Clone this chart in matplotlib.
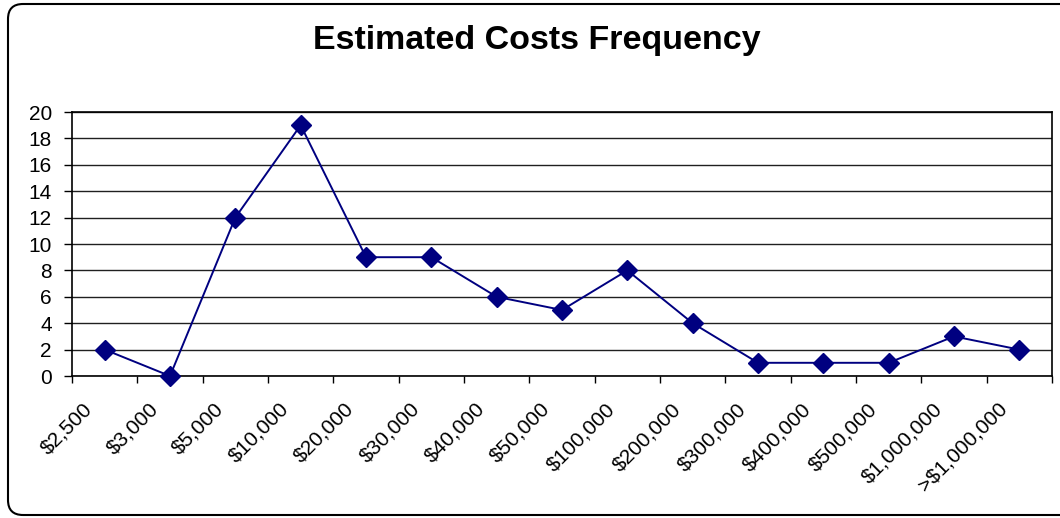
import matplotlib.pyplot as plt
from matplotlib.patches import FancyBboxPatch
from matplotlib.transforms import IdentityTransform

plt.rcParams['font.family'] = ['Liberation Sans', 'DejaVu Sans']

# cost brackets and how many estimates fell in each
categories = ['$2,500', '$3,000', '$5,000', '$10,000', '$20,000', '$30,000',
              '$40,000', '$50,000', '$100,000', '$200,000', '$300,000',
              '$400,000', '$500,000', '$1,000,000', '>$1,000,000']
counts = [2, 0, 12, 19, 9, 9, 6, 5, 8, 4, 1, 1, 1, 3, 2]
y_ticks = list(range(0, 21, 2))

fig = plt.figure(figsize=(10.6, 5.18), dpi=100)

# rounded chart border (pixel coordinates, right side runs off the canvas)
border = FancyBboxPatch((8, 3), 1090, 511,
                        boxstyle='round,pad=0,rounding_size=15',
                        transform=IdentityTransform(), fill=False,
                        edgecolor='black', linewidth=1.5)
fig.patches.append(border)

ax = fig.add_axes([72 / 1060, 1 - 376 / 518, 980 / 1060, 264 / 518])

x = list(range(len(categories)))
ax.plot(x, counts, color='#000080', linewidth=1.4, marker='D',
        markersize=10, markerfacecolor='#000080', markeredgecolor='#000080',
        zorder=3, clip_on=False)

ax.set_xlim(-0.5, len(categories) - 0.5)
ax.set_ylim(0, 20)
ax.set_yticks(y_ticks)
ax.set_yticklabels([str(v) for v in y_ticks], fontsize=15)
ax.yaxis.grid(True, color='#202020', linewidth=1.0)
ax.set_axisbelow(True)

ax.set_xticks([i - 0.5 for i in range(len(categories) + 1)])
ax.set_xticklabels([])
ax.tick_params(axis='both', direction='out', length=5, width=1, color='black')
ax.tick_params(axis='y', length=6, pad=8.5)

for sp in ax.spines.values():
    sp.set_color('black')
    sp.set_linewidth(1.2)

for i, lab in enumerate(categories):
    ax.annotate(lab, xy=(i, 0), xycoords=('data', 'axes fraction'),
                xytext=(-15, -30), textcoords='offset pixels',
                rotation=45, ha='right', va='center',
                rotation_mode='anchor', fontsize=15)

fig.text(537 / 1060, 1 - 40 / 518, 'Estimated Costs Frequency',
         ha='center', va='center', fontsize=24.5, fontweight='bold')

fig.savefig('out.png', dpi=100)
